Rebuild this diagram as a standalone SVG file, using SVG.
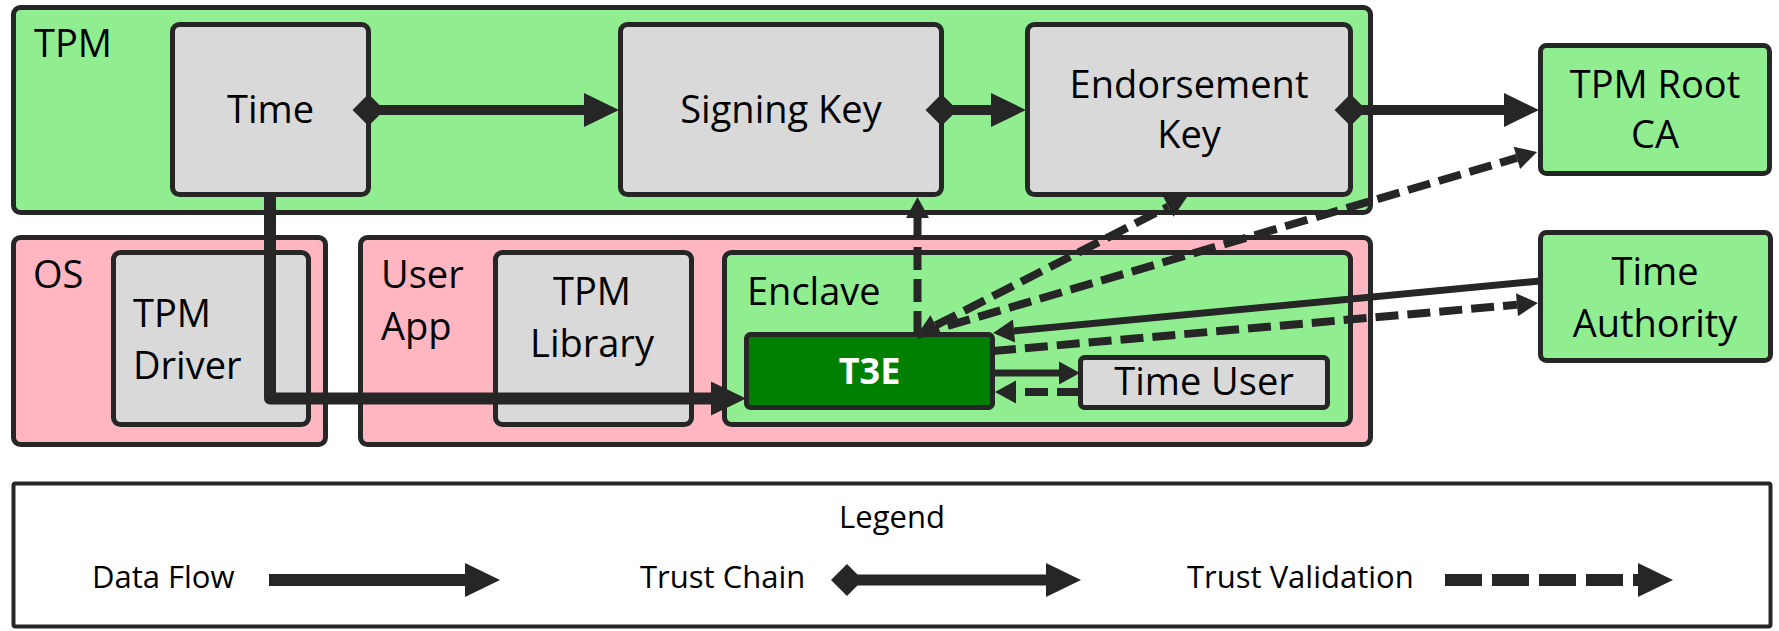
<svg xmlns="http://www.w3.org/2000/svg" width="1779" height="631" viewBox="0 0 1779 631">
<style>
.box{stroke:#262626;stroke-width:5}
.green{fill:#90EE90}
.pink{fill:#FFB6C1}
.gray{fill:#D9D9D9}
.t{font-family:"Open Sans","Noto Sans","Liberation Sans",sans-serif;font-size:38px;fill:#000}
.c{text-anchor:middle}
.lg{font-family:"Open Sans","Noto Sans","Liberation Sans",sans-serif;font-size:31px;fill:#000}
.ln{fill:none;stroke:#262626}
.thick{stroke-width:10}
.flow{stroke-width:12}
.thin{stroke-width:7}
.dash{stroke-width:8;stroke-dasharray:23 9}
</style>
<defs>
<marker id="head" markerUnits="userSpaceOnUse" markerWidth="40" markerHeight="40" refX="0" refY="0" orient="auto" overflow="visible"><path d="M0,-17 L35,0 L0,17 z" fill="#262626"/></marker>
<marker id="diam" markerUnits="userSpaceOnUse" markerWidth="40" markerHeight="40" refX="0" refY="0" orient="auto" overflow="visible"><path d="M-16,0 L0,-16 L16,0 L0,16 z" fill="#262626"/></marker>
<marker id="sh" markerUnits="userSpaceOnUse" markerWidth="30" markerHeight="30" refX="0" refY="0" orient="auto" overflow="visible"><path d="M0,-11.5 L21,0 L0,11.5 z" fill="#262626"/></marker>
<marker id="shs" markerUnits="userSpaceOnUse" markerWidth="30" markerHeight="30" refX="0" refY="0" orient="auto-start-reverse" overflow="visible"><path d="M0,-11.5 L21,0 L0,11.5 z" fill="#262626"/></marker>
</defs>
<rect width="1779" height="631" fill="#fff"/>

<g id="tpm">
<rect class="box green" x="13.5" y="7.5" width="1357" height="205" rx="7"/>
<text class="t" x="34" y="57">TPM</text>
</g>
<g id="time">
<rect class="box gray" x="172.5" y="24.5" width="196" height="170" rx="7"/>
<text class="t c" x="270.5" y="123">Time</text>
</g>
<g id="signing-key">
<rect class="box gray" x="620.5" y="24.5" width="321" height="170" rx="7"/>
<text class="t c" x="781" y="123">Signing Key</text>
</g>
<g id="endorsement-key">
<rect class="box gray" x="1027.5" y="24.5" width="323" height="170" rx="7"/>
<text class="t c" x="1189" y="98">Endorsement<tspan x="1189" dy="50">Key</tspan></text>
</g>
<g id="tpm-root-ca">
<rect class="box green" x="1540.5" y="45.5" width="229" height="128" rx="6"/>
<text class="t c" x="1655" y="98">TPM Root<tspan x="1655" dy="50">CA</tspan></text>
</g>
<g id="os">
<rect class="box pink" x="13.5" y="237.5" width="312" height="207" rx="7"/>
<text class="t" x="33" y="288">OS</text>
</g>
<g id="tpm-driver">
<rect class="box gray" x="113.5" y="252.5" width="195" height="172" rx="7"/>
<text class="t" x="133" y="327">TPM<tspan x="133" dy="52">Driver</tspan></text>
</g>
<g id="user-app">
<rect class="box pink" x="360.5" y="237.5" width="1010" height="207" rx="7"/>
<text class="t" x="381" y="288">User<tspan x="381" dy="52">App</tspan></text>
</g>
<g id="tpm-library">
<rect class="box gray" x="495.5" y="252.5" width="196" height="172" rx="7"/>
<text class="t c" x="592" y="305">TPM<tspan x="592" dy="52">Library</tspan></text>
</g>
<g id="enclave">
<rect class="box green" x="724.5" y="252.5" width="626" height="172" rx="7"/>
<text class="t" x="747" y="305">Enclave</text>
</g>
<g id="t3e">
<rect class="box" fill="#008000" x="746.5" y="334.5" width="246" height="73" rx="4"/>
<text class="t c" x="869.5" y="384" style="font-weight:bold;font-size:36px;fill:#fff">T3E</text>
</g>
<g id="time-user">
<rect class="box gray" x="1080.5" y="357.5" width="247" height="50" rx="4"/>
<text class="t c" x="1204" y="395">Time User</text>
</g>
<g id="time-authority">
<rect class="box green" x="1540.5" y="232.5" width="230" height="128" rx="6"/>
<text class="t c" x="1655" y="285">Time<tspan x="1655" dy="52">Authority</tspan></text>
</g>

<g id="connectors">
<path class="ln thick" d="M368.5,110 H584" marker-start="url(#diam)" marker-end="url(#head)"/>
<path class="ln thick" d="M941.5,110 H991" marker-start="url(#diam)" marker-end="url(#head)"/>
<path class="ln thick" d="M1350.5,110 H1504" marker-start="url(#diam)" marker-end="url(#head)"/>
<path class="ln flow" d="M270,196 V398.5 H711" stroke-linejoin="round" marker-end="url(#head)"/>
<path class="ln thin" d="M992.5,373 H1059" marker-end="url(#sh)"/>
<path class="ln dash" d="M1080,392 H1016" marker-end="url(#sh)"/>
<path class="ln thin" d="M1540,281 L1014,331" marker-end="url(#sh)"/>
<path class="ln dash" d="M993,351 L1517,304.8" marker-end="url(#sh)"/>
<path class="ln dash" d="M917.5,334 V218" marker-end="url(#sh)"/>
<path class="ln dash" d="M935.7,325.4 L1168.3,206.6" marker-start="url(#shs)" marker-end="url(#shs)"/>
<path class="ln dash" d="M917,335 L1516.9,157.9" marker-end="url(#sh)"/>
</g>

<g id="legend">
<rect x="13.5" y="483.5" width="1757" height="143" fill="#fff" stroke="#262626" stroke-width="4" rx="2"/>
<text class="lg c" x="892" y="528">Legend</text>
<text class="lg" x="92" y="588">Data Flow</text>
<path class="ln" stroke-width="12" d="M269,580 H465" marker-end="url(#head)"/>
<text class="lg" x="640" y="588">Trust Chain</text>
<path class="ln" stroke-width="11" d="M847,580 H1046" marker-start="url(#diam)" marker-end="url(#head)"/>
<text class="lg" x="1187" y="588">Trust Validation</text>
<path class="ln" stroke-width="12" stroke-dasharray="37 10" d="M1445,580 H1638" marker-end="url(#head)"/>
</g>
</svg>
